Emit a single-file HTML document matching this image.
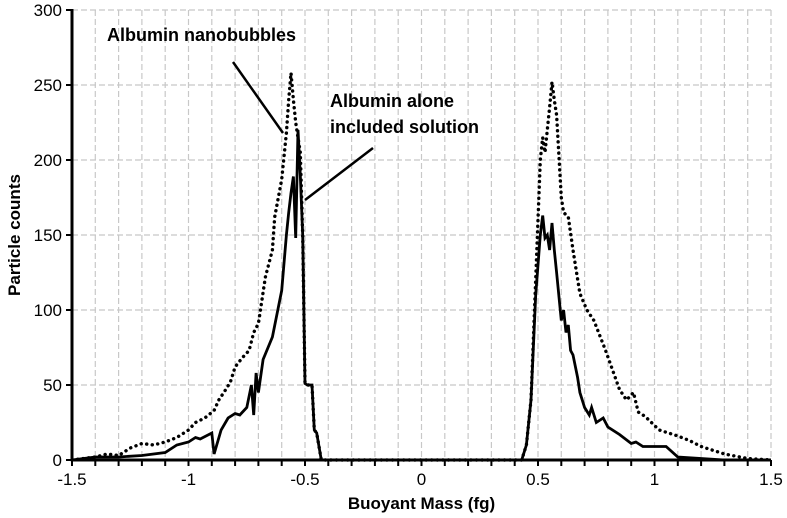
<!DOCTYPE html>
<html><head><meta charset="utf-8"><style>
body{margin:0;background:#fff;font-family:"Liberation Sans",Arial,sans-serif}
svg{display:block}
</style></head><body>
<svg id="c" width="787" height="518"></svg>
<script>
const xTicks=[-1.5,-1,-0.5,0,0.5,1,1.5];
const yTicks=[0,50,100,150,200,250,300];
const xAlone=[-1.5,-1.4,-1.3,-1.2,-1.1,-1.05,-1.0,-0.97,-0.95,-0.9,-0.89,-0.86,-0.83,-0.8,-0.78,-0.75,-0.73,-0.72,-0.71,-0.7,-0.68,-0.64,-0.6,-0.58,-0.57,-0.56,-0.55,-0.54,-0.53,-0.52,-0.51,-0.5,-0.49,-0.47,-0.46,-0.45,-0.43,-0.3,0.3,0.43,0.45,0.47,0.49,0.51,0.52,0.53,0.54,0.55,0.56,0.57,0.58,0.6,0.61,0.62,0.63,0.64,0.65,0.67,0.68,0.7,0.72,0.73,0.75,0.78,0.8,0.85,0.9,0.92,0.95,1.0,1.05,1.1,1.2,1.3,1.4,1.5];
const yAlone=[0,2,2,3,5,10,12,15,14,18,4,20,28,31,30,35,50,30,58,45,67,82,113,150,165,178,189,148,220,190,150,51,50,50,20,18,0,0,0,0,10,40,110,150,163,148,150,140,158,140,125,93,100,85,90,73,70,55,45,35,30,35,25,28,22,17,11,12,9,9,9,2,1,0,0,0];
const xNano=[-1.5,-1.4,-1.35,-1.3,-1.25,-1.2,-1.15,-1.1,-1.05,-1.0,-0.97,-0.93,-0.89,-0.87,-0.84,-0.82,-0.8,-0.77,-0.74,-0.72,-0.7,-0.67,-0.64,-0.63,-0.6,-0.58,-0.57,-0.56,-0.55,-0.54,-0.53,-0.52,-0.51,-0.5,-0.49,-0.47,-0.46,-0.45,-0.43,-0.3,0.3,0.43,0.45,0.47,0.49,0.51,0.52,0.53,0.55,0.56,0.57,0.58,0.6,0.61,0.63,0.65,0.68,0.71,0.74,0.79,0.85,0.88,0.91,0.93,0.96,1.02,1.1,1.15,1.2,1.3,1.4,1.5];
const yNano=[0,2,4,3,8,11,10,12,15,20,25,28,33,40,47,52,62,68,73,85,91,122,140,162,187,218,240,258,240,225,215,205,150,51,50,50,20,18,0,0,0,0,10,40,120,200,215,205,235,252,240,230,175,165,162,140,111,100,93,73,47,40,45,32,29,20,16,13,9,4,1,0];
const NS='http://www.w3.org/2000/svg';
const svg=document.getElementById('c');
const L=72,R=771,T=10,B=460;
const sx=v=>L+(v+1.5)/3*(R-L);
const sy=v=>B-v/300*(B-T);
function mk(t,a,p){const e=document.createElementNS(NS,t);for(const k in a)e.setAttribute(k,a[k]);(p||svg).appendChild(e);return e;}
const grid=mk('g',{});


for(let i=1;i<=30;i++){const x=sx(-1.5+i*0.1);mk('line',{x1:x,x2:x,y1:T,y2:B,stroke:'#c8c8c8','stroke-dasharray':'6,3','stroke-width':1.2},grid);}
for(const t of yTicks){if(t===0)continue;mk('line',{x1:L,x2:R,y1:sy(t),y2:sy(t),stroke:'#c8c8c8','stroke-dasharray':'6,3','stroke-width':1.2},grid);}
function path(xs,ys){return xs.map((x,i)=>(i?'L':'M')+sx(x).toFixed(1)+','+sy(ys[i]).toFixed(1)).join('');}
const pn=mk('path',{d:path(xNano,yNano),fill:'none',stroke:'#000','stroke-width':3.4,'stroke-dasharray':'0.1,5.5','stroke-linecap':'round'});


const pa=mk('path',{d:path(xAlone,yAlone),fill:'none',stroke:'#000','stroke-width':2.8,'stroke-linejoin':'miter'});


const ax=mk('g',{});


mk('line',{x1:L,x2:L,y1:T-1,y2:B,stroke:'#000','stroke-width':3},ax);
mk('line',{x1:L,x2:R,y1:B,y2:B,stroke:'#000','stroke-width':3},ax);
for(let i=0;i<=30;i++){const x=sx(-1.5+i*0.1);mk('line',{x1:x,x2:x,y1:B,y2:B+6,stroke:'#000','stroke-width':2},ax);}
for(const t of yTicks){mk('line',{x1:L-6,x2:L,y1:sy(t),y2:sy(t),stroke:'#000','stroke-width':2},ax);
 const tx=mk('text',{x:L-10,y:sy(t)+6,'text-anchor':'end','font-size':17,fill:'#000'},ax);tx.textContent=t;
 }
for(const t of xTicks){const tx=mk('text',{x:sx(t),y:B+25,'text-anchor':'middle','font-size':17,fill:'#000'},ax);tx.textContent=t;
 }
const xt=mk('text',{x:sx(0),y:509,'text-anchor':'middle','font-size':17,'font-weight':'bold'});xt.textContent='Buoyant Mass (fg)';

const yt=mk('text',{x:0,y:0,'text-anchor':'middle','font-size':17,'font-weight':'bold',transform:'translate(20,235) rotate(-90)'});yt.textContent='Particle counts';

const a1=mk('text',{x:107,y:41,'font-size':18,'font-weight':'bold'});a1.textContent='Albumin nanobubbles';

const a2=mk('text',{x:330,y:107,'font-size':18,'font-weight':'bold'});a2.textContent='Albumin alone';

const a3=mk('text',{x:330,y:133,'font-size':18,'font-weight':'bold'});a3.textContent='included solution';

const l1=mk('line',{x1:233,y1:62,x2:283,y2:133,stroke:'#000','stroke-width':2.5});

const l2=mk('line',{x1:373,y1:148,x2:305,y2:200,stroke:'#000','stroke-width':2.5});

</script>
</body></html>
